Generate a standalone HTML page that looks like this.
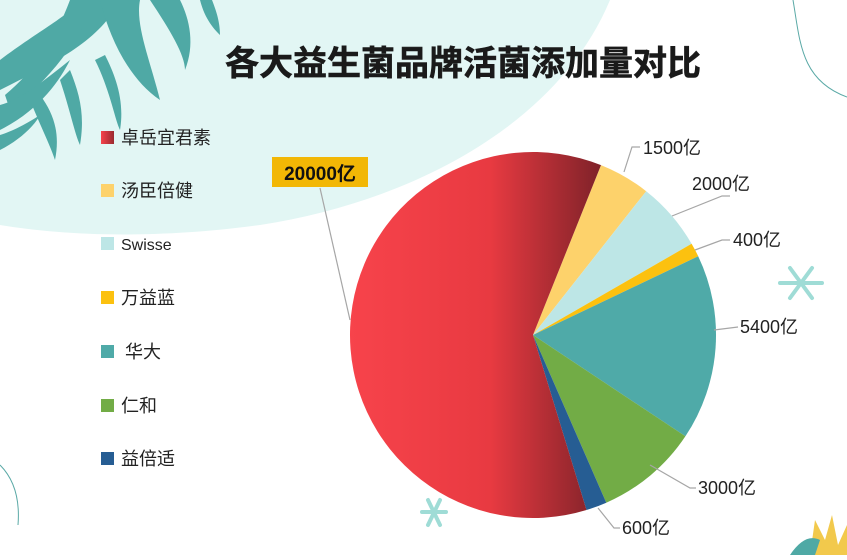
<!DOCTYPE html>
<html><head><meta charset="utf-8"><style>
body{margin:0;width:847px;height:555px;overflow:hidden;background:#fff;font-family:"Liberation Sans","Noto Sans CJK SC",sans-serif}
</style></head><body>
<svg width="847" height="555" viewBox="0 0 847 555" xmlns="http://www.w3.org/2000/svg" font-family="Liberation Sans, Noto Sans CJK SC, sans-serif">
<defs>
<linearGradient id="rg" x1="350" y1="0" x2="605" y2="0" gradientUnits="userSpaceOnUse">
<stop offset="0" stop-color="#f7434b"/><stop offset="0.55" stop-color="#e83a41"/><stop offset="1" stop-color="#7b2128"/></linearGradient>
<linearGradient id="lg" x1="0" x2="1"><stop offset="0" stop-color="#f7434b"/><stop offset="1" stop-color="#9a2a30"/></linearGradient>
</defs>
<path d="M0,0 L610,0 C560,120 420,200 260,225 C150,240 60,235 0,225 Z" fill="#e2f6f4"/>
<path d="M793,0 C800,40 800,80 847,97" fill="none" stroke="#5aa9a6" stroke-width="1"/>
<g fill="#4fa9a5">
<path d="M0,60 C40,30 70,15 80,0 L120,0 C100,40 60,60 0,90Z"/>
<path d="M10,110 C50,80 80,40 95,0 L70,0 C55,40 35,70 5,95Z"/>
<path d="M0,130 C40,110 60,80 70,60 C45,80 20,100 0,105Z"/>
<path d="M100,0 C110,40 130,80 160,100 C150,60 135,25 140,0Z"/>
<path d="M60,80 C70,110 75,135 80,145 C85,115 80,95 70,70Z"/>
<path d="M95,60 C110,90 115,120 120,130 C125,100 115,75 105,55Z"/>
<path d="M150,0 C170,30 185,55 185,70 C195,45 190,20 180,0Z"/>
<path d="M200,0 C205,20 215,30 220,35 C220,20 215,8 212,0Z"/>
<path d="M0,150 C20,140 35,125 40,115 C25,125 10,132 0,135Z"/>
<path d="M30,100 C40,125 50,145 55,160 C60,135 55,115 40,95Z"/>
</g>
<path d="M0,465 C15,480 20,500 18,525" fill="none" stroke="#5aa9a6"/>
<g stroke="#9fdcd6" stroke-width="4" stroke-linecap="round"><path d="M790,268 L812,298 M812,268 L790,298 M780,283 L822,283"/><path d="M428,500 L440,525 M440,500 L428,525 M422,512 L446,512"/></g>
<path d="M810,555 L815,520 L825,540 L832,515 L838,545 L847,525 L847,555Z" fill="#f2c94c"/>
<path d="M790,555 C800,540 810,535 820,540 L815,555Z" fill="#4fa9a5"/>
<text x="463" y="75" text-anchor="middle" font-size="34" font-weight="bold" fill="#1a1a1a" stroke="#1a1a1a" stroke-width="0.6">各大益生菌品牌活菌添加量对比</text>
<path d="M533,335 L601.0,165.1 A183,183 0 0 1 646.2,191.2Z" fill="#fdd26b"/>
<path d="M533,335 L646.2,191.2 A183,183 0 0 1 691.6,243.8Z" fill="#bde6e6"/>
<path d="M533,335 L691.6,243.8 A183,183 0 0 1 698.2,256.2Z" fill="#fcc10f"/>
<path d="M533,335 L698.2,256.2 A183,183 0 0 1 685.4,436.3Z" fill="#4faaa8"/>
<path d="M533,335 L685.4,436.3 A183,183 0 0 1 606.3,502.7Z" fill="#72ac46"/>
<path d="M533,335 L606.3,502.7 A183,183 0 0 1 586.5,510.0Z" fill="#265d93"/>
<path d="M533,335 L586.5,510.0 A183,183 0 1 1 601.0,165.1Z" fill="url(#rg)"/>
<g fill="none" stroke="#a6a6a6" stroke-width="1.2">
<path d="M624,172 L632,147 L640,147"/>
<path d="M672,216 L722,196 L730,196"/>
<path d="M695,250 L722,240 L730,240"/>
<path d="M714,330 L738,327"/>
<path d="M650,465 L690,488 L696,488"/>
<path d="M598,508 L614,528 L620,528"/>
<path d="M350,320 L320,188"/>
</g>
<rect x="272" y="157" width="96" height="30" fill="#f2b705"/>
<text x="320" y="180" text-anchor="middle" font-size="19" font-weight="bold" fill="#111">20000亿</text>
<g font-size="18" fill="#222">
<text x="643" y="154">1500亿</text>
<text x="692" y="190">2000亿</text>
<text x="733" y="246">400亿</text>
<text x="740" y="333">5400亿</text>
<text x="698" y="494">3000亿</text>
<text x="622" y="534">600亿</text>
</g>
<g font-size="18" fill="#222">
<rect x="101" y="131" width="13" height="13" fill="url(#lg)"/><text x="121" y="144">卓岳宜君素</text>
<rect x="101" y="184" width="13" height="13" fill="#fdd26b"/><text x="121" y="197">汤臣倍健</text>
<rect x="101" y="237" width="13" height="13" fill="#bde6e6"/><text x="121" y="250" font-size="16">Swisse</text>
<rect x="101" y="291" width="13" height="13" fill="#fcc10f"/><text x="121" y="304">万益蓝</text>
<rect x="101" y="345" width="13" height="13" fill="#4faaa8"/><text x="125" y="358">华大</text>
<rect x="101" y="399" width="13" height="13" fill="#72ac46"/><text x="121" y="412">仁和</text>
<rect x="101" y="452" width="13" height="13" fill="#265d93"/><text x="121" y="465">益倍适</text>
</g>
</svg>
</body></html>
